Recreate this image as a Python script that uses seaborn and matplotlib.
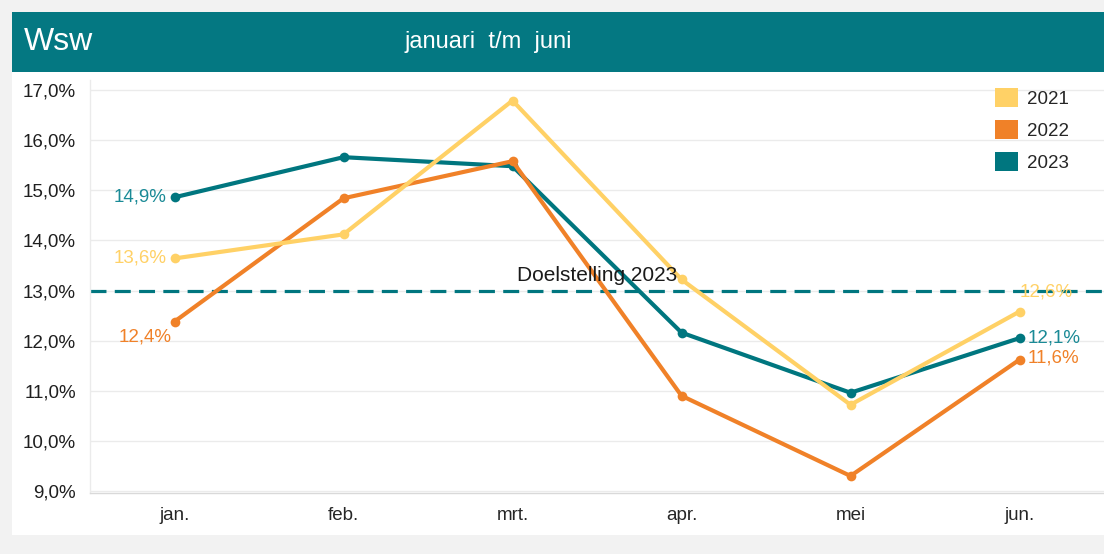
import matplotlib
matplotlib.use("Agg")
import matplotlib.pyplot as plt
import matplotlib.patches as mpatches
import seaborn as sns
import pandas as pd

months = ["jan.", "feb.", "mrt.", "apr.", "mei", "jun."]
years = ["2021", "2022", "2023"]
vals_2021 = [13.64, 14.12, 16.79, 13.22, 10.72, 12.58]
vals_2022 = [12.38, 14.84, 15.58, 10.90, 9.30, 11.62]
vals_2023 = [14.86, 15.66, 15.48, 12.16, 10.96, 12.05]
target = 13.0
target_label = "Doelstelling 2023"
yticks = [9, 10, 11, 12, 13, 14, 15, 16, 17]
title = "Wsw"
subtitle = "januari  t/m  juni"

colors = {"2021": "#FFD166", "2022": "#F08128", "2023": "#00767F"}
label_colors = {"2021": "#FFD166", "2022": "#F08128", "2023": "#1A8A96"}

rows = []
for y, vals in zip(years, [vals_2021, vals_2022, vals_2023]):
    for i, v in enumerate(vals):
        rows.append({"idx": i, "value": v, "year": y})
df = pd.DataFrame(rows)

sns.set_theme(style="white")
plt.rcParams["font.family"] = ["Liberation Sans", "DejaVu Sans"]

W, H = 1104, 554
fig = plt.figure(figsize=(W / 100, H / 100), dpi=100)
fig.patch.set_facecolor("#F2F2F2")

def fx(px):
    return px / W

def fy(py):
    return 1 - py / H

# white panel
fig.add_artist(mpatches.Rectangle((fx(12), fy(535)), 1 - fx(12), fy(12) - fy(535),
                                  transform=fig.transFigure, facecolor="white",
                                  edgecolor="none", zorder=0))
# header bar
fig.add_artist(mpatches.Rectangle((fx(12), fy(72)), 1 - fx(12), fy(12) - fy(72),
                                  transform=fig.transFigure, facecolor="#047882",
                                  edgecolor="none", zorder=1))
fig.text(fx(24), fy(42), title, color="white", fontsize=23, va="center", ha="left")
fig.text(fx(404), fy(42), subtitle, color="white", fontsize=17, va="center", ha="left")

ax = fig.add_axes([fx(90), fy(493), 1 - fx(90), fy(80) - fy(493)])
ax.set_facecolor("none")

sns.lineplot(data=df, x="idx", y="value", hue="year", hue_order=["2023", "2022", "2021"],
             palette=colors, marker="o", markersize=7, markeredgewidth=0,
             linewidth=3, legend=False, ax=ax, zorder=3)

ax.set_xlim(-0.5, 5.5)
ax.set_ylim(8.96, 17.2)
ax.set_yticks(yticks)
ax.set_yticklabels([f"{t:.1f}%".replace(".", ",") for t in yticks])
ax.set_xticks(range(len(months)))
ax.set_xticklabels(months)
ax.set_xticks([i - 0.5 for i in range(len(months) + 1)], minor=True)
ax.tick_params(axis="x", which="major", length=0, pad=10, labelsize=13.5, colors="#262626")
ax.tick_params(axis="x", which="minor", length=7, color="#D9D9D9", width=1)
ax.tick_params(axis="y", length=0, pad=10, labelsize=13.5, colors="#1F1F1F")
ax.set_xlabel("")
ax.set_ylabel("")
ax.grid(axis="y", color="#EBEBEB", linewidth=1, zorder=0)
ax.set_axisbelow(True)
for s in ["top", "right"]:
    ax.spines[s].set_visible(False)
ax.spines["bottom"].set_color("#D9D9D9")
ax.spines["left"].set_color("#EBEBEB")
ax.spines["bottom"].set_linewidth(1)
ax.spines["left"].set_linewidth(1)

# target line
ax.axhline(target, color="#00767F", linewidth=2.3, dashes=(5, 2.6), zorder=2)
ax.text(2.5, target + 0.3, target_label, ha="center", va="center", fontsize=15,
        color="#1A1A1A", zorder=5)

def fmt(v):
    return f"{v:.1f}%".replace(".", ",")

# labels at first point
ax.annotate(fmt(vals_2023[0]), (0, vals_2023[0]), xytext=(-6, 0), textcoords="offset points",
            ha="right", va="center", fontsize=13.5, color=label_colors["2023"], zorder=5)
ax.annotate(fmt(vals_2021[0]), (0, vals_2021[0]), xytext=(-6, 0), textcoords="offset points",
            ha="right", va="center", fontsize=13.5, color=label_colors["2021"], zorder=5)
ax.annotate(fmt(vals_2022[0]), (0, vals_2022[0]), xytext=(-2, -11), textcoords="offset points",
            ha="right", va="center", fontsize=13.5, color=label_colors["2022"], zorder=5)
# labels at last point
ax.annotate(fmt(vals_2021[-1]), (5, vals_2021[-1]), xytext=(0, 14), textcoords="offset points",
            ha="left", va="center", fontsize=13.5, color=label_colors["2021"], zorder=5)
ax.annotate(fmt(vals_2023[-1]), (5, vals_2023[-1]), xytext=(6, 0), textcoords="offset points",
            ha="left", va="center", fontsize=13.5, color=label_colors["2023"], zorder=5)
ax.annotate(fmt(vals_2022[-1]), (5, vals_2022[-1]), xytext=(6, 1), textcoords="offset points",
            ha="left", va="center", fontsize=13.5, color=label_colors["2022"], zorder=5)

handles = [mpatches.Patch(facecolor=colors[y], edgecolor="none", label=y) for y in years]
fig.legend(handles=handles, loc="upper left", bbox_to_anchor=(fx(995), fy(88)),
           bbox_transform=fig.transFigure, frameon=False, fontsize=13.5,
           handlelength=1.2, handleheight=1.15, handletextpad=0.5,
           labelspacing=0.66, borderpad=0, borderaxespad=0)

fig.savefig("out.png", dpi=100, facecolor=fig.get_facecolor())
